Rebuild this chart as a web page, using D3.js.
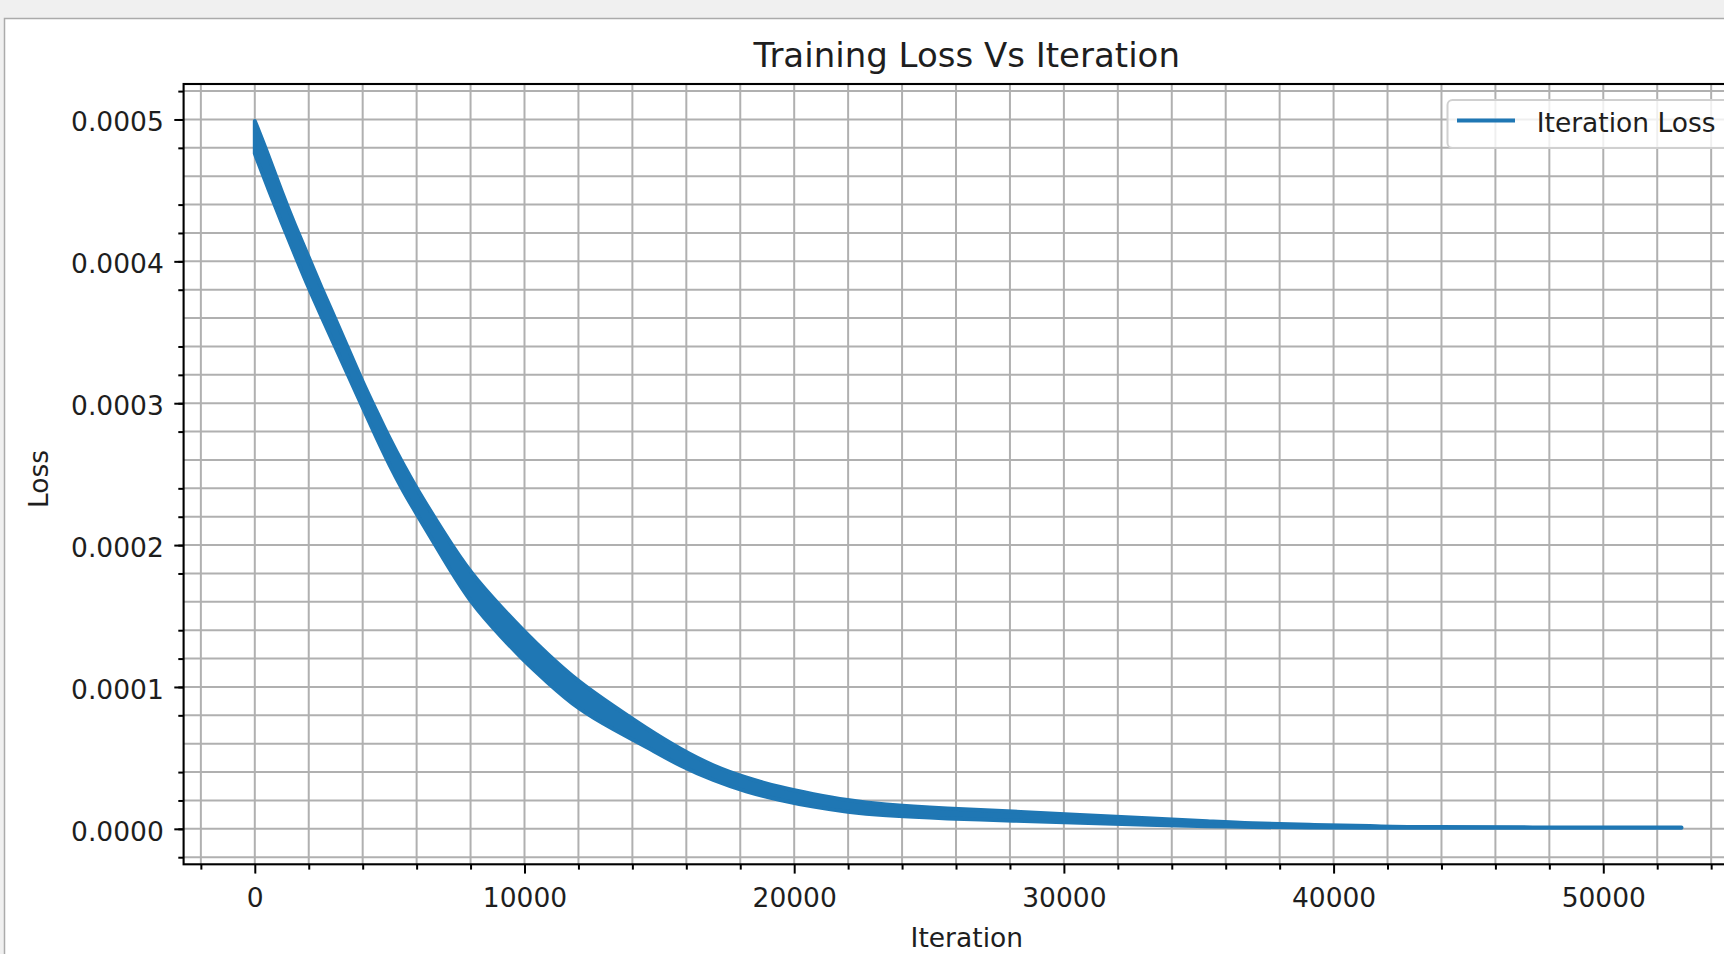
<!DOCTYPE html>
<html>
<head>
<meta charset="utf-8">
<script src="https://cdn.jsdelivr.net/npm/d3@7"></script>
<style>
	body { margin: 0; background: #f0f0f0; overflow: hidden; }
	text { font-family: "DejaVu Sans", sans-serif; fill: #1e1e1e; }
</style>
</head>
<body>
<div id="chart"></div>
<script>
// values: the noisy loss is kept as a band (upper / lower edge)
var iterations = [0, 500, 1000, 1500, 2000, 2500, 3000, 3500, 4000, 4500, 5000, 5500, 6000, 7000, 8000,
	9200, 10000, 10800, 12000, 13300, 14500, 15800, 17000, 18200, 19500, 20700, 22000, 23200,
	25700, 28100, 30600, 33100, 35500, 36800, 39300, 41700, 42000, 52900];
var lossHigh = [0.000499, 0.000475, 0.000449, 0.000425, 0.000403, 0.000380, 0.000359, 0.000337, 0.000315, 0.000295, 0.000275, 0.000257, 0.000240, 0.000209, 0.000180,
	0.000155, 0.000139, 0.000124, 0.0001035, 0.0000865, 0.0000710, 0.0000558, 0.0000442, 0.0000360, 0.0000291, 0.0000244, 0.0000200, 0.0000172,
	0.0000142, 0.0000122, 0.0000098, 0.0000075, 0.0000052, 0.0000038, 0.0000027, 0.0000021, 0.0000011, 0.0000009];
var lossLow = [0.000476, 0.000451, 0.000427, 0.000404, 0.000381, 0.000360, 0.000339, 0.000318, 0.000297, 0.000276, 0.000256, 0.000238, 0.000222, 0.000190, 0.000159,
	0.000134, 0.000118, 0.000104, 0.0000840, 0.0000700, 0.0000580, 0.0000439, 0.0000342, 0.0000261, 0.0000201, 0.0000155, 0.0000118, 0.0000095,
	0.0000072, 0.0000058, 0.0000043, 0.0000028, 0.0000018, 0.0000013, 0.0000009, 0.0000008, 0.0000007, 0.0000007];

var xTicks = [0, 10000, 20000, 30000, 40000, 50000];
var yTicks = [0, 0.0001, 0.0002, 0.0003, 0.0004, 0.0005];
var xMinor = d3.range(-1, 28).map((i) => i * 2000);
var yMinor = d3.range(-1, 27).map((i) => i * 2e-5);

var width = 1724;
var height = 954;

var svg = d3
	.select("#chart")
	.append("svg")
	.attr("width", width)
	.attr("height", height);

// white figure panel inside the grey window
svg
	.append("rect")
	.attr("x", 4.5)
	.attr("y", 18.5)
	.attr("width", width)
	.attr("height", height)
	.attr("fill", "#fff")
	.attr("stroke", "#ababab")
	.attr("stroke-width", 1.5);

var plot = { left: 183.6, right: 1750, top: 84, bottom: 864.3 };

var xscale = d3.scaleLinear().domain([-2640, 55440]).range([plot.left, plot.right]);
var yscale = d3.scaleLinear().domain([-0.000025, 0.000525]).range([plot.bottom, plot.top]);

var gridColor = "#b0b0b0";
var gridGroup = svg.append("g");

gridGroup
	.selectAll(".vgrid")
	.data(xMinor.filter((d) => xscale(d) > plot.left && xscale(d) < plot.right))
	.enter()
	.append("line")
	.attr("x1", (d) => xscale(d))
	.attr("x2", (d) => xscale(d))
	.attr("y1", plot.top)
	.attr("y2", plot.bottom)
	.attr("stroke", gridColor)
	.attr("stroke-width", 2);

gridGroup
	.selectAll(".hgrid")
	.data(yMinor.filter((d) => yscale(d) > plot.top && yscale(d) < plot.bottom))
	.enter()
	.append("line")
	.attr("x1", plot.left)
	.attr("x2", plot.right)
	.attr("y1", (d) => yscale(d))
	.attr("y2", (d) => yscale(d))
	.attr("stroke", gridColor)
	.attr("stroke-width", 2);

svg
	.append("clipPath")
	.attr("id", "clip")
	.append("rect")
	.attr("x", plot.left)
	.attr("y", plot.top)
	.attr("width", plot.right - plot.left)
	.attr("height", plot.bottom - plot.top);

var lossData = iterations.map((it, i) => ({ it: it, hi: lossHigh[i], lo: lossLow[i] }));

var band = d3
	.area()
	.x((d) => xscale(d.it))
	.y0((d) => yscale(d.lo))
	.y1((d) => yscale(d.hi))
	.curve(d3.curveBasis);

svg
	.append("path")
	.datum(lossData)
	.attr("clip-path", "url(#clip)")
	.attr("d", band)
	.attr("fill", "#1f77b4")
	.attr("stroke", "#1f77b4")
	.attr("stroke-width", 4)
	.attr("stroke-linejoin", "round");

// axes: major + minor ticks, no domain line (spines drawn separately)
var xaxis = svg
	.append("g")
	.attr("transform", `translate(0,${plot.bottom})`)
	.call(d3.axisBottom(xscale).tickValues(xTicks).tickSize(9.3).tickFormat(d3.format("d")));
xaxis.selectAll("text").attr("y", 42.4).attr("dy", 0).style("font-size", "26.5px");
svg
	.append("g")
	.attr("transform", `translate(0,${plot.bottom})`)
	.call(d3.axisBottom(xscale).tickValues(xMinor.filter((d) => d % 10000 != 0 && xscale(d) > plot.left)).tickSize(5.3).tickFormat(""));

var yaxis = svg
	.append("g")
	.attr("transform", `translate(${plot.left},0)`)
	.call(d3.axisLeft(yscale).tickValues(yTicks).tickSize(9.3).tickPadding(10.5).tickFormat(d3.format(".4f")));
yaxis.selectAll("text").attr("dy", "0.43em").style("font-size", "26.5px");
svg
	.append("g")
	.attr("transform", `translate(${plot.left},0)`)
	.call(d3.axisLeft(yscale).tickValues(yMinor.filter((d, i) => (i + 1) % 5 != 0)).tickSize(5.3).tickFormat(""));

svg.selectAll(".domain").remove();
svg.selectAll(".tick line").attr("stroke", "#000").attr("stroke-width", 2);

svg
	.append("rect")
	.attr("x", plot.left)
	.attr("y", plot.top)
	.attr("width", plot.right - plot.left)
	.attr("height", plot.bottom - plot.top)
	.attr("fill", "none")
	.attr("stroke", "#000")
	.attr("stroke-width", 2.1);

// labels
svg
	.append("text")
	.text("Training Loss Vs Iteration")
	.attr("x", (plot.left + plot.right) / 2)
	.attr("y", 67)
	.attr("text-anchor", "middle")
	.style("font-size", "34px");

svg
	.append("text")
	.text("Iteration")
	.attr("x", (plot.left + plot.right) / 2)
	.attr("y", 947)
	.attr("text-anchor", "middle")
	.style("font-size", "26.5px");

svg
	.append("text")
	.text("Loss")
	.attr("transform", "translate(48,479) rotate(-90)")
	.attr("text-anchor", "middle")
	.style("font-size", "26.5px");

// legend (upper right, runs past the cropped edge)
var legend = svg.append("g");
legend
	.append("rect")
	.attr("x", 1447.5)
	.attr("y", 100)
	.attr("width", 290)
	.attr("height", 48)
	.attr("rx", 5)
	.attr("fill", "#fff")
	.attr("fill-opacity", 0.8)
	.attr("stroke", "#d0d0d0")
	.attr("stroke-width", 2);
legend
	.append("line")
	.attr("x1", 1457)
	.attr("x2", 1515)
	.attr("y1", 120.5)
	.attr("y2", 120.5)
	.attr("stroke", "#1f77b4")
	.attr("stroke-width", 4);
legend
	.append("text")
	.text("Iteration Loss")
	.attr("x", 1536.7)
	.attr("y", 132)
	.style("font-size", "26.5px");
</script>
</body>
</html>
